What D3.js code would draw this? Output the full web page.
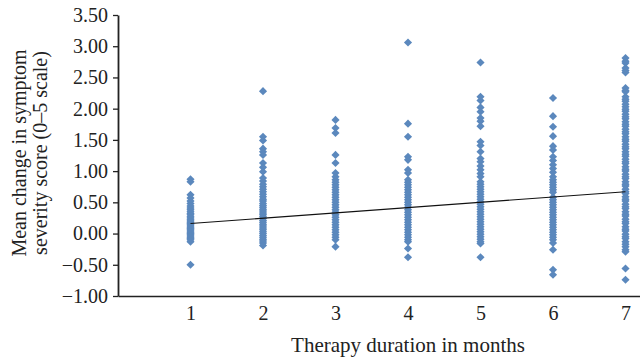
<!DOCTYPE html>
<html>
<head>
<meta charset="utf-8">
<script src="https://cdn.jsdelivr.net/npm/d3@7"></script>
<style>
  body { margin: 0; background: #fff; }
  svg { display: block; }
  .axis text { font-family: "Liberation Serif", "DejaVu Serif", serif; font-size: 20px; fill: #222; }
  .title { font-family: "Liberation Serif", "DejaVu Serif", serif; font-size: 20px; fill: #222; }
</style>
</head>
<body>
<svg id="chart" width="640" height="362"></svg>
<script>
// values, one array per therapy month
const months = [1, 2, 3, 4, 5, 6, 7];

const month1 = [0.87, 0.83, 0.62, 0.57, 0.52, 0.48, 0.44, 0.41, 0.38, 0.35, 0.32, 0.30, 0.27, 0.25,
  0.22, 0.20, 0.18, 0.16, 0.14, 0.12, 0.10, 0.08, 0.06, 0.04, 0.02, 0.00, -0.02, -0.04, -0.06,
  -0.08, -0.10, -0.13, -0.50];
const month2 = [2.28, 1.55, 1.49, 1.36, 1.31, 1.26, 1.13, 1.06, 0.99, 0.89, 0.84, 0.79, 0.75, 0.71,
  0.67, 0.63, 0.59, 0.55, 0.52, 0.48, 0.45, 0.42, 0.39, 0.36, 0.33, 0.30, 0.27, 0.24, 0.21, 0.18,
  0.15, 0.12, 0.09, 0.06, 0.03, 0.00, -0.03, -0.06, -0.09, -0.12, -0.15, -0.19];
const month3 = [1.82, 1.69, 1.61, 1.26, 1.13, 0.97, 0.91, 0.86, 0.82, 0.78, 0.74, 0.70, 0.66, 0.62,
  0.58, 0.54, 0.50, 0.46, 0.42, 0.38, 0.34, 0.30, 0.26, 0.22, 0.18, 0.14, 0.10, 0.06, 0.02,
  -0.02, -0.06, -0.10, -0.21];
const month4 = [3.06, 1.76, 1.55, 1.23, 1.18, 1.02, 0.97, 0.86, 0.82, 0.78, 0.74, 0.70, 0.66, 0.62,
  0.58, 0.54, 0.50, 0.46, 0.42, 0.38, 0.34, 0.30, 0.26, 0.22, 0.18, 0.14, 0.10, 0.06, 0.02,
  -0.02, -0.06, -0.10, -0.13, -0.24, -0.38];
const month5 = [2.74, 2.19, 2.13, 2.02, 1.95, 1.85, 1.80, 1.72, 1.47, 1.41, 1.31, 1.20, 1.15, 1.08,
  1.02, 0.96, 0.91, 0.83, 0.79, 0.75, 0.71, 0.67, 0.63, 0.59, 0.55, 0.51, 0.47, 0.43, 0.39, 0.35,
  0.31, 0.27, 0.23, 0.19, 0.15, 0.11, 0.07, 0.03, -0.01, -0.05, -0.09, -0.13, -0.16, -0.38];
const month6 = [2.17, 1.88, 1.71, 1.56, 1.40, 1.34, 1.23, 1.17, 1.10, 1.04, 0.98, 0.91, 0.86, 0.82,
  0.78, 0.74, 0.70, 0.66, 0.58, 0.54, 0.50, 0.46, 0.42, 0.38, 0.34, 0.30, 0.26, 0.22, 0.18, 0.14,
  0.10, 0.06, 0.02, -0.02, -0.06, -0.10, -0.15, -0.26, -0.58, -0.66];
const month7 = [2.81, 2.76, 2.73, 2.65, 2.61, 2.58, 2.33, 2.29, 2.27, 2.19, 2.15, 2.12, 2.07, 2.03,
  1.99, 1.96, 1.91, 1.87, 1.84, 1.79, 1.75, 1.72, 1.67, 1.63, 1.60, 1.55, 1.51, 1.48, 1.43, 1.39,
  1.36, 1.31, 1.27, 1.24, 1.19, 1.15, 1.12, 1.07, 1.03, 1.00, 0.95, 0.91, 0.88, 0.83, 0.79, 0.76,
  0.71, 0.67, 0.64, 0.59, 0.55, 0.52, 0.47, 0.43, 0.40, 0.35, 0.31, 0.28, 0.23, 0.19, 0.16, 0.11,
  0.07, 0.04, -0.01, -0.05, -0.08, -0.13, -0.17, -0.21, -0.26, -0.29, -0.56, -0.74];

const seriesByMonth = [month1, month2, month3, month4, month5, month6, month7];

// fitted trend line, read at its two ends
const trendMonths = [1, 7];
const trendValues = [0.16, 0.67];

const yTicks = [-1, -0.5, 0, 0.5, 1, 1.5, 2, 2.5, 3, 3.5];

const svg = d3.select('#chart');
const margin = { top: 15, right: 0, bottom: 66, left: 118 };
const width = 640;
const height = 362;

const x = d3.scaleLinear().domain([0, 7.2]).range([margin.left, width - margin.right]);
const y = d3.scaleLinear().domain([-1, 3.5]).range([height - margin.bottom, margin.top]);

const points = [];
seriesByMonth.forEach((vals, i) => {
  vals.forEach(v => points.push({ month: months[i], value: v }));
});

// diamonds
const diamond = d3.symbol().type(d3.symbolSquare).size(33);
svg.append('g')
  .selectAll('path')
  .data(points)
  .enter()
  .append('path')
  .attr('d', diamond)
  .attr('transform', d => `translate(${x(d.month)},${y(d.value)}) rotate(45)`)
  .attr('fill', '#5b88bd');

// trend line
const trend = trendMonths.map((m, i) => [m, trendValues[i]]);
svg.append('path')
  .datum(trend)
  .attr('d', d3.line().x(d => x(d[0])).y(d => y(d[1])))
  .attr('fill', 'none')
  .attr('stroke', '#111')
  .attr('stroke-width', 1.1);

// x axis (no tick marks)
const gx = svg.append('g')
  .attr('class', 'axis')
  .attr('transform', `translate(0,${y(-1)})`)
  .call(d3.axisBottom(x).tickValues(months).tickSize(0).tickPadding(10).tickFormat(d3.format('d')));
gx.select('.domain').attr('stroke', '#222').attr('stroke-width', 1.6);

// y axis
const gy = svg.append('g')
  .attr('class', 'axis')
  .attr('transform', `translate(${margin.left},0)`)
  .call(d3.axisLeft(y).tickValues(yTicks).tickSize(5).tickSizeOuter(0).tickPadding(5).tickFormat(d3.format('.2f')));
gy.select('.domain').attr('stroke', '#222').attr('stroke-width', 1.8);
gy.selectAll('.tick line').attr('stroke', '#222').attr('stroke-width', 1.3);

// titles
svg.append('text')
  .attr('class', 'title')
  .attr('x', 408)
  .attr('y', 352)
  .attr('text-anchor', 'middle')
  .style('font-size', '21px')
  .text('Therapy duration in months');

const yTitle = svg.append('text')
  .attr('class', 'title')
  .attr('transform', 'translate(26,153) rotate(-90)')
  .attr('text-anchor', 'middle');
yTitle.append('tspan').attr('x', 0).attr('y', 0).text('Mean change in symptom');
yTitle.append('tspan').attr('x', 0).attr('y', 21).text('severity score (0–5 scale)');
</script>
</body>
</html>
